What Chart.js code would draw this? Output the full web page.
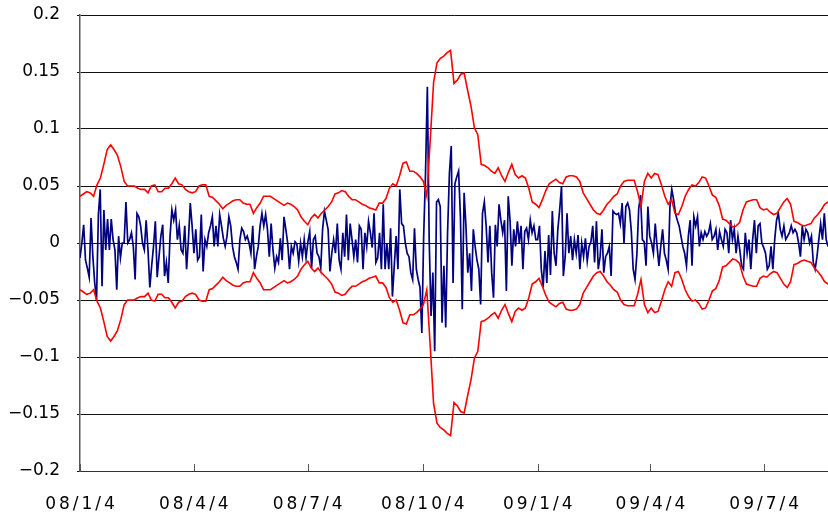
<!DOCTYPE html>
<html>
<head>
<meta charset="utf-8">
<script src="https://cdn.jsdelivr.net/npm/chart.js@4.4.0/dist/chart.umd.min.js"></script>
<style>
html, body { margin: 0; padding: 0; background: #fff; }
#wrap { width: 828px; height: 515px; }
</style>
</head>
<body>
<div id="wrap"><canvas id="volChart"></canvas></div>
<script>
// x axis labels and their offset in calendar days from 08/1/4
var tickLabels = ['08/1/4', '08/4/4', '08/7/4', '08/10/4', '09/1/4', '09/4/4', '09/7/4'];
var tickDays = [0, 91, 182, 274, 366, 456, 547];
var lastDay = 598;

// daily return (blue)
var returns = [
    -0.013, 0.000, 0.016, -0.015, -0.022, -0.030, 0.022, -0.012, -0.035, -0.050,
    0.025, 0.047, -0.038, 0.029, -0.006, 0.021, -0.006, 0.021, 0.003, -0.006,
    -0.041, 0.006, -0.013, 0.000, 0.000, 0.036, 0.000, 0.003, 0.009, -0.003,
    -0.032, 0.026, 0.023, 0.015, 0.000, -0.006, 0.020, -0.006, -0.039, -0.020,
    -0.003, 0.019, -0.030, -0.012, 0.006, 0.016, -0.029, -0.017, -0.035, 0.006, 0.029,
    0.020, 0.029, 0.003, 0.015, -0.006, -0.009, 0.015, -0.023, 0.003, 0.035,
    0.015, -0.009, 0.012, -0.015, -0.012, 0.025, -0.025, 0.003, -0.003, 0.009,
    0.015, 0.023, -0.003, 0.015, -0.003, 0.025, 0.015, 0.004, -0.003, 0.006,
    0.023, 0.015, -0.003, -0.012, -0.017, -0.023, 0.003, 0.013, 0.010, 0.003,
    0.006, 0.000, -0.009, 0.015, -0.023, -0.012, -0.003, 0.015, 0.026, 0.015,
    0.025, 0.012, -0.012, 0.017, -0.006, -0.022, -0.012, -0.017, 0.004, -0.015,
    0.023, 0.012, 0.000, -0.023, -0.003, -0.009, 0.001, -0.001, -0.016, 0.000,
    -0.012, 0.003, -0.013, 0.001, 0.010, -0.022, 0.003, 0.006, -0.009, -0.012,
    -0.022, 0.012, 0.028, 0.020, 0.012, -0.025, -0.009, 0.003, -0.009, 0.017,
    -0.015, -0.023, 0.009, -0.012, 0.025, -0.015, 0.017, 0.003, -0.012,
    0.003, -0.017, 0.015, 0.012, -0.023, 0.009, -0.003, 0.019, 0.009, -0.004,
    0.026, -0.017, -0.013, 0.009, -0.023, 0.034, -0.023, 0.000, -0.023, 0.013,
    -0.047, -0.020, 0.006, -0.023, 0.047, 0.017,
    0.015, 0.000, -0.009, -0.012, -0.026, -0.032, 0.013, -0.023, -0.032, -0.039,
    -0.079, 0.006, 0.061, 0.137, 0.003, -0.064, -0.026, -0.095, 0.036, 0.038,
    0.032, -0.070, -0.020, -0.074, 0.009, 0.061, 0.085, -0.035, 0.052, 0.058,
    0.063, 0.023, -0.058,
    0.044, 0.015, -0.026, -0.009, -0.042, 0.012, -0.003, -0.015, -0.023, -0.054,
    0.026, 0.036, 0.015, -0.017, 0.015, -0.026, -0.048, 0.016, -0.003, 0.034,
    0.020, 0.009, 0.020, -0.042, 0.041, 0.020, -0.020, 0.012, -0.003, 0.019,
    0.000, 0.015, -0.023, 0.010, 0.013, 0.003, 0.020, 0.009, 0.015, 0.003,
    0.003, 0.015, -0.023, -0.039, -0.007, -0.035, 0.007, -0.028, 0.028, -0.009,
    -0.020, 0.012, 0.029, 0.050, -0.029, -0.012, 0.026, -0.009, 0.006, -0.015,
    0.003, -0.009, 0.007, -0.023, 0.000, -0.012, 0.004, -0.016, -0.003, 0.001,
    0.015, -0.017, 0.019, -0.023, -0.012, 0.012, -0.026, -0.012, -0.009, -0.003,
    -0.029, 0.028, 0.026, 0.025, 0.026, 0.017, 0.035, 0.000, 0.032,
    0.035, 0.029, 0.010, -0.023, -0.032, -0.010, 0.030, 0.042, 0.003, 0.001,
    -0.020, 0.032, 0.006, 0.000, -0.009, 0.017, -0.003, -0.020, -0.003, 0.012,
    -0.009, -0.015, -0.023, 0.032, 0.047, 0.038, 0.026, 0.020, 0.015, 0.006,
    -0.003, -0.009, -0.020, 0.006, 0.020, -0.020, 0.023, 0.015, 0.023, -0.003,
    0.009, 0.003, 0.010, 0.006, 0.009, 0.017, 0.003, 0.006, 0.012, -0.006,
    0.010, 0.003, -0.003, 0.012, 0.009, -0.009, 0.020, 0.003, 0.012, -0.009,
    0.006, -0.006, -0.020, -0.023, 0.009, -0.009, 0.003, -0.023, 0.003, 0.020,
    -0.009, 0.015, 0.017, 0.000, -0.004, -0.009, -0.023, -0.020, -0.003, -0.023,
    0.003, 0.020, 0.026, 0.012, 0.006, 0.015, 0.003, 0.006, 0.009, 0.015,
    0.009, 0.012, 0.009, 0.000, -0.012, 0.015, 0.003, 0.012, 0.009, 0.000,
    0.006, -0.017, -0.023, -0.012, 0.003, 0.017, 0.003, 0.026, 0.003, -0.003
];

// half width of the band (red), drawn as +band and -band
var band = [
    0.041, 0.043, 0.045, 0.044, 0.041, 0.051, 0.057, 0.069, 0.082, 0.086,
    0.082, 0.077, 0.067, 0.054, 0.050, 0.050, 0.050, 0.048, 0.047, 0.047,
    0.044, 0.050, 0.051, 0.045, 0.045, 0.048, 0.048, 0.052,
    0.057, 0.052, 0.051, 0.047, 0.045, 0.044, 0.045, 0.050, 0.051, 0.051,
    0.041, 0.040, 0.037, 0.034, 0.030, 0.033, 0.035, 0.037, 0.038, 0.038,
    0.035, 0.034, 0.034, 0.026, 0.031, 0.035, 0.041,
    0.041, 0.041, 0.039, 0.037, 0.035, 0.033, 0.035, 0.034, 0.032, 0.029,
    0.023, 0.019, 0.016, 0.022, 0.025, 0.022, 0.026, 0.029, 0.032, 0.036,
    0.043, 0.044, 0.046, 0.045, 0.041, 0.038, 0.038,
    0.036, 0.034, 0.033, 0.031, 0.030, 0.029, 0.035, 0.035, 0.039, 0.048,
    0.052, 0.050, 0.059, 0.070,
    0.071, 0.063, 0.063, 0.061, 0.058, 0.054, 0.041, 0.090, 0.141, 0.158,
    0.162, 0.164, 0.167, 0.169, 0.140, 0.143, 0.148, 0.149,
    0.134, 0.120, 0.101, 0.095, 0.069, 0.068, 0.066, 0.063, 0.061, 0.066,
    0.059, 0.054, 0.062, 0.069, 0.060, 0.057,
    0.059, 0.057, 0.048, 0.036, 0.034, 0.031,
    0.038, 0.046, 0.052, 0.054, 0.056, 0.053, 0.052, 0.058, 0.059, 0.059,
    0.058, 0.054, 0.044, 0.039, 0.034, 0.029, 0.026, 0.025, 0.029, 0.034,
    0.037, 0.041, 0.043, 0.050, 0.054, 0.055, 0.055,
    0.055, 0.045, 0.032, 0.054, 0.061, 0.057, 0.061, 0.060, 0.051, 0.041,
    0.034, 0.038, 0.026, 0.025, 0.032, 0.041, 0.047, 0.051, 0.050, 0.053,
    0.058, 0.057, 0.050, 0.042, 0.040, 0.033, 0.021,
    0.020, 0.017, 0.014, 0.015, 0.018, 0.029, 0.036, 0.037, 0.038, 0.038,
    0.031, 0.029, 0.030, 0.027, 0.025, 0.026, 0.031, 0.036, 0.039, 0.034,
    0.019, 0.018, 0.016, 0.015, 0.016, 0.017, 0.022, 0.025, 0.029, 0.034, 0.036
];

var fontFamily = "'DejaVu Sans', 'Noto Sans', sans-serif";

function toPoints(arr, sign) {
    return arr.map(function(v, i) {
        return { x: i * lastDay / (arr.length - 1), y: sign * v };
    });
}

function fmtY(v) {
    var s = parseFloat(Math.abs(v).toFixed(2)).toString();
    return v < -1e-9 ? '\u2212' + s : s;
}

// bottom axis: short tick marks pointing up and widely spaced date labels
var dateAxis = {
    id: 'dateAxis',
    afterDraw: function(chart) {
        var ctx = chart.ctx;
        var xs = chart.scales.x;
        var bottom = chart.chartArea.bottom;
        ctx.save();
        ctx.strokeStyle = '#555';
        ctx.lineWidth = 1;
        tickDays.forEach(function(d) {
            var px = Math.round(xs.getPixelForValue(d)) + 0.5;
            ctx.beginPath();
            ctx.moveTo(px, bottom);
            ctx.lineTo(px, bottom - 7);
            ctx.stroke();
        });
        ctx.fillStyle = '#000';
        ctx.font = '17px ' + fontFamily;
        ctx.textAlign = 'center';
        ctx.textBaseline = 'middle';
        ctx.letterSpacing = '3px';
        tickDays.forEach(function(d, i) {
            ctx.fillText(tickLabels[i], xs.getPixelForValue(d) + 1.5, bottom + 34);
        });
        ctx.restore();
    }
};

var ctx = document.getElementById('volChart').getContext('2d');
new Chart(ctx, {
    type: 'line',
    data: {
        datasets: [{
            data: toPoints(band, 1),
            borderColor: '#ff0000',
            borderWidth: 1.6,
            pointRadius: 0,
            tension: 0
        }, {
            data: toPoints(band, -1),
            borderColor: '#ff0000',
            borderWidth: 1.6,
            pointRadius: 0,
            tension: 0
        }, {
            data: toPoints(returns, 1),
            borderColor: '#000080',
            borderWidth: 1.7,
            pointRadius: 0,
            tension: 0
        }]
    },
    options: {
        responsive: true,
        maintainAspectRatio: false,
        devicePixelRatio: 1,
        animation: false,
        layout: { padding: { top: 15, left: 0, right: 0, bottom: 0 } },
        plugins: {
            legend: { display: false },
            tooltip: { enabled: false }
        },
        scales: {
            x: {
                type: 'linear',
                min: 0,
                max: lastDay,
                afterBuildTicks: function(scale) {
                    scale.ticks = tickDays.map(function(d) { return { value: d }; });
                },
                afterFit: function(scale) { scale.height = 44; },
                grid: { display: false },
                border: { display: true, color: '#333', width: 1 },
                ticks: { display: false }
            },
            y: {
                min: -0.2,
                max: 0.2,
                afterFit: function(scale) {
                    scale.width = 80;
                    scale.paddingTop = 0;
                    scale.paddingBottom = 0;
                },
                grid: { color: '#111', lineWidth: 1, tickLength: 3 },
                border: { display: true, color: '#555', width: 1.5 },
                ticks: {
                    stepSize: 0.05,
                    padding: 17,
                    color: '#000',
                    font: { family: fontFamily, size: 17 },
                    callback: fmtY
                }
            }
        }
    },
    plugins: [dateAxis]
});
</script>
</body>
</html>
